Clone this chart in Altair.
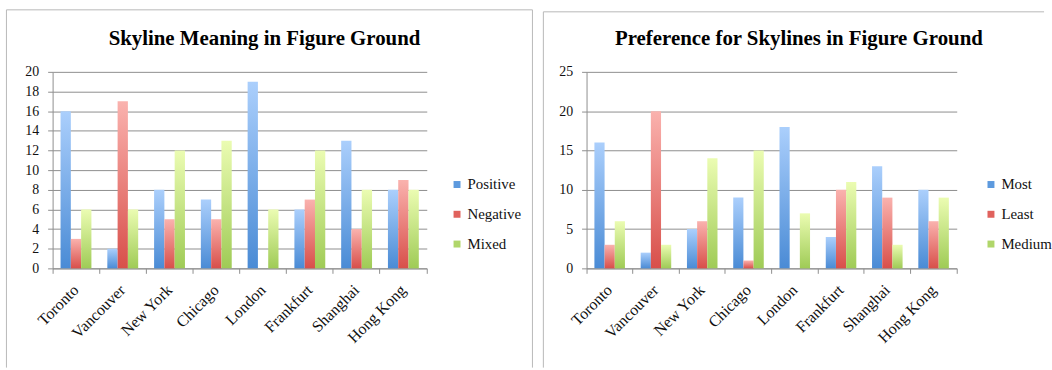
import altair as alt
import pandas as pd

# Categories shared by both panels
cities = ["Toronto", "Vancouver", "New York", "Chicago", "London",
          "Frankfurt", "Shanghai", "Hong Kong"]

# Panel 1: Skyline Meaning in Figure Ground
meaning_title = "Skyline Meaning in Figure Ground"
meaning_series = ["Positive", "Negative", "Mixed"]
positive = [16, 2, 8, 7, 19, 6, 13, 8]
negative = [3, 17, 5, 5, 0, 7, 4, 9]
mixed = [6, 6, 12, 13, 6, 12, 8, 8]
meaning_ticks = [0, 2, 4, 6, 8, 10, 12, 14, 16, 18, 20]

# Panel 2: Preference for Skylines in Figure Ground
pref_title = "Preference for Skylines in Figure Ground"
pref_series = ["Most", "Least", "Medium"]
most = [16, 2, 5, 9, 18, 4, 13, 10]
least = [3, 20, 6, 1, 0, 10, 9, 6]
medium = [6, 3, 14, 15, 7, 11, 3, 9]
pref_ticks = [0, 5, 10, 15, 20, 25]

# Fill styles: (light top, dark bottom) for the blue / red / green series
gradients = [("#abcffc", "#4a8bd5"), ("#fab2ae", "#d84f4a"), ("#ebfcb2", "#9fcb56")]
legend_colors = ["#5d9ade", "#e0625d", "#b0d66a"]

FONT = "Liberation Serif, serif"
GREY = "#8e8e8e"
FRAME = "#b8b8b8"


def tidy(series_names, columns):
    rows = []
    for name, vals in zip(series_names, columns):
        for c, v in zip(cities, vals):
            rows.append({"city": c, "series": name, "value": v})
    return pd.DataFrame(rows)


def panel(title, series_names, columns, ticks, width, height, title_x, frame_left,
          frame_top, frame_right, frame_bottom, draw_right_edge):
    df = tidy(series_names, columns)
    one = alt.Data(values=[{"k": 1}])
    step = width / len(cities)
    bar_w = step * 0.22  # three bars fill two thirds of each category slot

    x_enc = alt.X(
        "city:N", sort=cities, title=None,
        scale=alt.Scale(domain=cities, paddingInner=0, paddingOuter=0),
        axis=alt.Axis(bandPosition=1, tickExtra=True,
                      labelAngle=-45, labelAlign="right", labelBaseline="middle",
                      labelPadding=14, tickSize=5, tickColor=GREY,
                      domainColor=GREY, labelFont=FONT, labelFontSize=16,
                      labelColor="#111111", grid=False),
    )
    y_enc = alt.Y(
        "value:Q", title=None,
        scale=alt.Scale(domain=[ticks[0], ticks[-1]], nice=False),
        axis=alt.Axis(values=ticks, grid=True, gridColor=GREY, gridWidth=1,
                      domainColor=GREY, tickColor=GREY, tickSize=5,
                      labelFont=FONT, labelFontSize=14, labelColor="#111111",
                      labelPadding=9),
    )

    # invisible bars that carry the axes and the colour legend
    base = alt.Chart(df).mark_bar(opacity=0).encode(
        x=x_enc, y=y_enc,
        color=alt.Color("series:N", sort=series_names,
                        scale=alt.Scale(domain=series_names, range=legend_colors),
                        legend=alt.Legend(title=None, orient="none", legendX=400,
                                          legendY=106, padding=0, symbolType="square",
                                          symbolSize=49, symbolOpacity=1,
                                          symbolStrokeWidth=0, labelFont=FONT,
                                          labelFontSize=15, labelColor="#111111",
                                          labelOffset=3, rowPadding=14)),
    )

    layers = [base]
    for i, (name, (top, bottom)) in enumerate(zip(series_names, gradients)):
        fill = alt.Gradient(
            gradient="linear", x1=0, x2=0, y1=0, y2=1,
            stops=[alt.GradientStop(color=top, offset=0),
                   alt.GradientStop(color=bottom, offset=1)],
        )
        layers.append(
            alt.Chart(df).transform_filter(alt.datum.series == name)
            .mark_bar(color=fill, width=bar_w, xOffset=(i - 1) * bar_w)
            .encode(x=x_enc, y=y_enc)
        )

    # chart title
    layers.append(
        alt.Chart(one).mark_text(text=title, font=FONT, fontSize=21, fontWeight="bold",
                                 align="center", baseline="alphabetic", color="#000000")
        .encode(x=alt.value(title_x), y=alt.value(-27))
    )

    # outer chart frame
    layers.append(alt.Chart(one).mark_rule(color=FRAME, strokeWidth=1).encode(
        x=alt.value(frame_left), y=alt.value(frame_top), y2=alt.value(frame_bottom)))
    layers.append(alt.Chart(one).mark_rule(color=FRAME, strokeWidth=1).encode(
        x=alt.value(frame_left), x2=alt.value(frame_right), y=alt.value(frame_top)))
    if draw_right_edge:
        layers.append(alt.Chart(one).mark_rule(color=FRAME, strokeWidth=1).encode(
            x=alt.value(frame_right), y=alt.value(frame_top), y2=alt.value(frame_bottom)))

    return alt.layer(*layers).properties(width=width, height=height)


left = panel(meaning_title, meaning_series, [positive, negative, mixed],
             meaning_ticks, 377, 198, 213.5, -46.5, -62.5, 483.5, 298, True)
right = panel(pref_title, pref_series, [most, least, medium],
              pref_ticks, 373, 198, 214, -43.5, -60.5, 461, 298, False)

chart = (
    alt.hconcat(left, right, spacing=10)
    .resolve_scale(color="independent")
    .properties(
        padding={"left": 6, "top": 8, "right": 0, "bottom": 0},
        autosize=alt.AutoSizeParams(type="pad"),
    )
    .configure(font=FONT)
    .configure_view(stroke=None)
    .configure_axis(labelFont=FONT)
    .configure_legend(labelFont=FONT)
)

chart.save("out.html", embed_options={"renderer": "svg", "actions": False})
